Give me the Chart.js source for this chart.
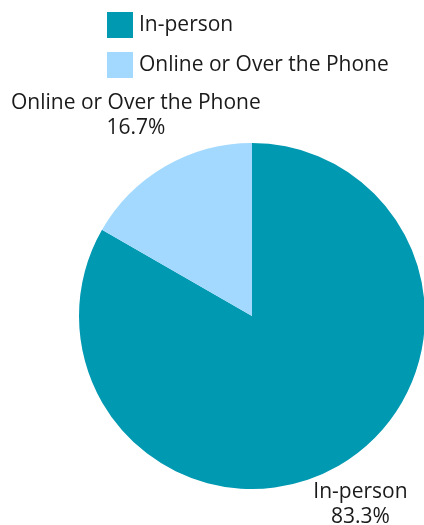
<!DOCTYPE html>
<html>
<head>
<meta charset="utf-8">
<script src="https://cdn.jsdelivr.net/npm/chart.js@4.4.1/dist/chart.umd.min.js"></script>
<style>
    html, body { margin: 0; padding: 0; background: #fff; overflow: hidden; }
    #wrap { position: relative; width: 428px; height: 525px; }
</style>
</head>
<body>
<div id="wrap"><canvas id="pieChart"></canvas></div>
<script>
const categories = ['In-person', 'Online or Over the Phone'];
const shares = [83.3, 16.7];
const sliceColors = ['#0099B2', '#A3D9FF'];

const FONT = '21px "Open Sans", sans-serif';
const TEXT = '#1a1a1a';

// stacked legend drawn above the pie
const legendPlugin = {
    id: 'stackedLegend',
    afterDraw(chart) {
        const ctx = chart.ctx;
        ctx.save();
        ctx.font = FONT;
        ctx.textBaseline = 'middle';
        ctx.textAlign = 'left';
        categories.forEach((name, i) => {
            const y = 12 + i * 40;
            ctx.fillStyle = sliceColors[i];
            ctx.fillRect(107, y, 26, 26);
            ctx.fillStyle = TEXT;
            ctx.fillText(name, 139, y + 13);
        });
        ctx.restore();
    }
};

// name + percentage placed just outside each slice
const outsideLabels = {
    id: 'outsideLabels',
    afterDraw(chart) {
        const ctx = chart.ctx;
        const meta = chart.getDatasetMeta(0);
        const pad = 20;
        const lineH = 25;
        ctx.save();
        ctx.font = FONT;
        ctx.fillStyle = TEXT;
        ctx.textAlign = 'center';
        ctx.textBaseline = 'middle';
        meta.data.forEach((arc, i) => {
            const mid = (arc.startAngle + arc.endAngle) / 2;
            const dx = Math.cos(mid), dy = Math.sin(mid);
            const lines = [categories[i], shares[i].toFixed(1) + '%'];
            const w = Math.max(...lines.map(l => ctx.measureText(l).width));
            const h = lineH * 2;
            let cx = arc.x + dx * (arc.outerRadius + pad) + dx * w / 4;
            let cy = arc.y + dy * (arc.outerRadius + pad) + dy * h / 2;
            if (dy < 0) cy -= 12;
            cx = Math.min(Math.max(cx, 11 + w / 2), 420 - w / 2);
            ctx.fillText(lines[0], cx, cy - lineH / 2);
            ctx.fillText(lines[1], cx, cy + lineH / 2);
        });
        ctx.restore();
    }
};

new Chart(document.getElementById('pieChart'), {
    type: 'pie',
    data: {
        labels: categories,
        datasets: [{
            data: shares,
            backgroundColor: sliceColors,
            borderWidth: 0
        }]
    },
    options: {
        responsive: true,
        maintainAspectRatio: false,
        animation: false,
        layout: { padding: { left: 79, right: 3, top: 143, bottom: 36 } },
        plugins: {
            legend: { display: false },
            tooltip: { enabled: false }
        }
    },
    plugins: [legendPlugin, outsideLabels]
});
</script>
</body>
</html>
